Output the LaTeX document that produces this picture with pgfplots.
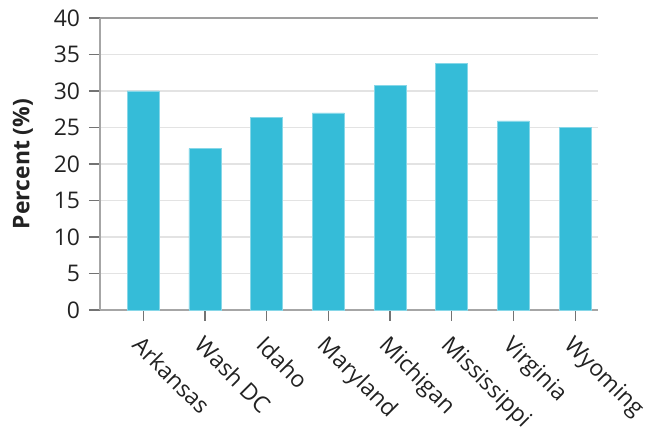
\documentclass[border=0pt]{standalone}
\usepackage{pgfplots}
\pgfplotsset{compat=1.18}
\usepackage{fontspec}
\setmainfont{Open Sans}
\definecolor{barblue}{RGB}{53,188,216}
\definecolor{txt}{RGB}{34,34,34}
\begin{document}
\begin{tikzpicture}
\begin{axis}[
    scale only axis,
    width=249bp,
    height=146bp,
    xmin=-0.7, xmax=7.37,
    ymin=0, ymax=40,
    ytick={0,5,...,40},
    xtick={0,...,7},
    xticklabels={Arkansas,Wash DC,Idaho,Maryland,Michigan,Mississippi,Virginia,Wyoming},
    axis lines=left,
    axis line style={-, draw=gray!70, line width=0.6pt},
    tick style={draw=gray!90!black, line width=0.6pt},
    tick align=outside,
    major tick length=5.5bp,
    ymajorgrids,
    grid style={draw=gray!22, line width=0.6pt},
    /pgf/number format/assume math mode=true,
    tick label style={font=\fontsize{11.5}{13}\selectfont, text=txt},
    yticklabel style={xshift=-1bp},
    xticklabel style={rotate=-45, anchor=north west, xshift=1.5bp, yshift=-1bp},
    ylabel={\textbf{Percent (\%)}},
    ylabel style={at={(axis description cs:-0.155,0.5)}, anchor=center, font=\fontsize{11.5}{13}\selectfont, text=txt},
    clip=false,
]
\addplot[ybar, bar width=16bp, fill=barblue, draw=barblue!60!white, line width=0.3pt] coordinates {
    (0,30) (1,22.1) (2,26.4) (3,27) (4,30.8) (5,33.8) (6,25.9) (7,25)
};
\draw[gray!75, line width=0.7pt] (rel axis cs:0,1) -- (rel axis cs:1,1);
\coordinate (bbll) at (rel axis cs:-0.2008,-0.4144);
\coordinate (bbur) at (rel axis cs:1.1024,1.0616);
\end{axis}
\pgfresetboundingbox
\path[use as bounding box] (bbll) rectangle (bbur);
\end{tikzpicture}
\end{document}
